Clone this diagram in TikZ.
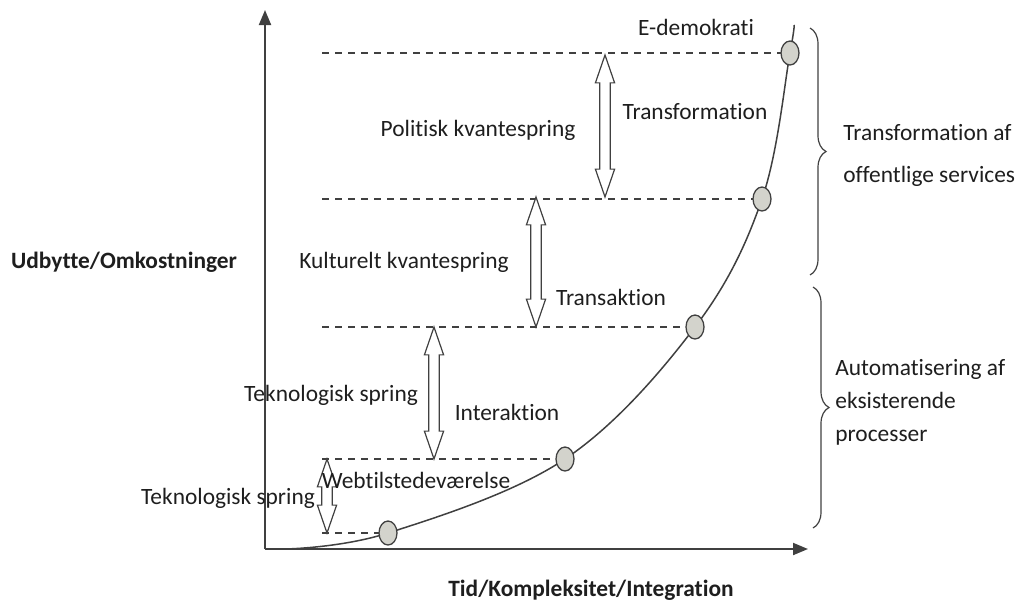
\documentclass[tikz,border=0pt]{standalone}
\usepackage{fontspec}
\setmainfont{Carlito}[Ligatures=NoCommon]
\usetikzlibrary{arrows.meta, shapes.geometric, shapes.arrows, decorations.pathreplacing}
\definecolor{linegray}{RGB}{64,64,64}
\definecolor{dotgray}{RGB}{211,211,204}
\definecolor{textgray}{RGB}{30,30,30}

\begin{document}
\begin{tikzpicture}[x=0.5pt, y=-0.5pt,
    lbl/.style={text=textgray, font=\fontsize{11.7}{14}\selectfont, inner sep=0pt},
    axislabel/.style={lbl, font=\fontsize{11.7}{14}\selectfont\bfseries},
    dot/.style={ellipse, draw=linegray, fill=dotgray, line width=0.65pt, minimum width=9pt, minimum height=12pt, inner sep=0pt},
    levelline/.style={draw=linegray, line width=0.6pt, dash pattern=on 3.5pt off 3pt},
    jump/.style={double arrow, draw=linegray, line width=0.6pt, fill=white, rotate=90, inner xsep=0pt, inner ysep=2.3pt, double arrow head extend=2.2pt, double arrow tip angle=38},
    axisline/.style={draw=linegray, line width=1pt, -{Triangle[length=7.5pt, width=6pt]}},
    bracket/.style={draw=linegray, line width=0.6pt, decorate, decoration={brace, amplitude=8pt}}
]
\useasboundingbox (0,0) rectangle (1017,607);

\coordinate (O) at (265,549);
\coordinate (Ytop) at (265,10);
\coordinate (Xend) at (808,549);
\draw[axisline] (O) -- (Ytop);
\draw[axisline] (O) -- (Xend);

\coordinate (p1) at (388,533);
\coordinate (p2) at (565,459);
\coordinate (p3) at (695,327);
\coordinate (p4) at (762,199);
\coordinate (p5) at (790,53);
\coordinate (start) at (285,549);
\coordinate (end) at (794,25);
\draw[linegray, line width=0.75pt] plot[smooth, tension=0.6] coordinates {(start) (p1) (p2) (p3) (p4) (p5) (end)};

\coordinate (l1) at (322,533);
\coordinate (l2) at (322,459);
\coordinate (l3) at (322,327);
\coordinate (l4) at (322,199);
\coordinate (l5) at (322,53);
\foreach \i in {1,...,5}
    \draw[levelline] (l\i) -- (p\i);
\foreach \i in {1,...,5}
    \node[dot] (c\i) at (p\i) {};

\node[jump, minimum height=71pt] (a1) at (605,126) {};
\node[jump, minimum height=65pt] (a2) at (536,262) {};
\node[jump, minimum height=66pt] (a3) at (434,393) {};
\node[jump, minimum height=37pt] (a4) at (327,496) {};

\node[lbl] (EDemo) at (696,27) {E-demokrati};
\node[lbl] (Politisk) at (478,130) {Politisk kvantespring};
\node[lbl] (Transf) at (695,112) {Transformation};
\node[lbl] (Kulturelt) at (404,262) {Kulturelt kvantespring};
\node[lbl] (Transak) at (611,297) {Transaktion};
\node[lbl] (TekUp) at (331,395) {Teknologisk spring};
\node[lbl] (Interak) at (507,412) {Interaktion};
\node[lbl] (Web) at (416,480) {Webtilstedeværelse};
\node[lbl] (TekLow) at (228,498) {Teknologisk spring};

\node[axislabel] (YLabel) at (124,262) {Udbytte/Omkostninger};
\node[axislabel] (XLabel) at (591,590) {Tid/Kompleksitet/Integration};

\coordinate (bt1) at (810,28);
\coordinate (bt2) at (810,275);
\coordinate (bb1) at (813,287);
\coordinate (bb2) at (813,528);
\draw[bracket] (bt1) -- (bt2);
\draw[bracket] (bb1) -- (bb2);
\node[lbl, align=left, anchor=west, font=\fontsize{11.7}{21}\selectfont] (TransfOff) at (843,155) {Transformation af\\offentlige services};
\node[lbl, align=left, anchor=west, font=\fontsize{11.7}{16.5}\selectfont] (AutoEks) at (835,402) {Automatisering af\\eksisterende\\processer};

\end{tikzpicture}
\end{document}
